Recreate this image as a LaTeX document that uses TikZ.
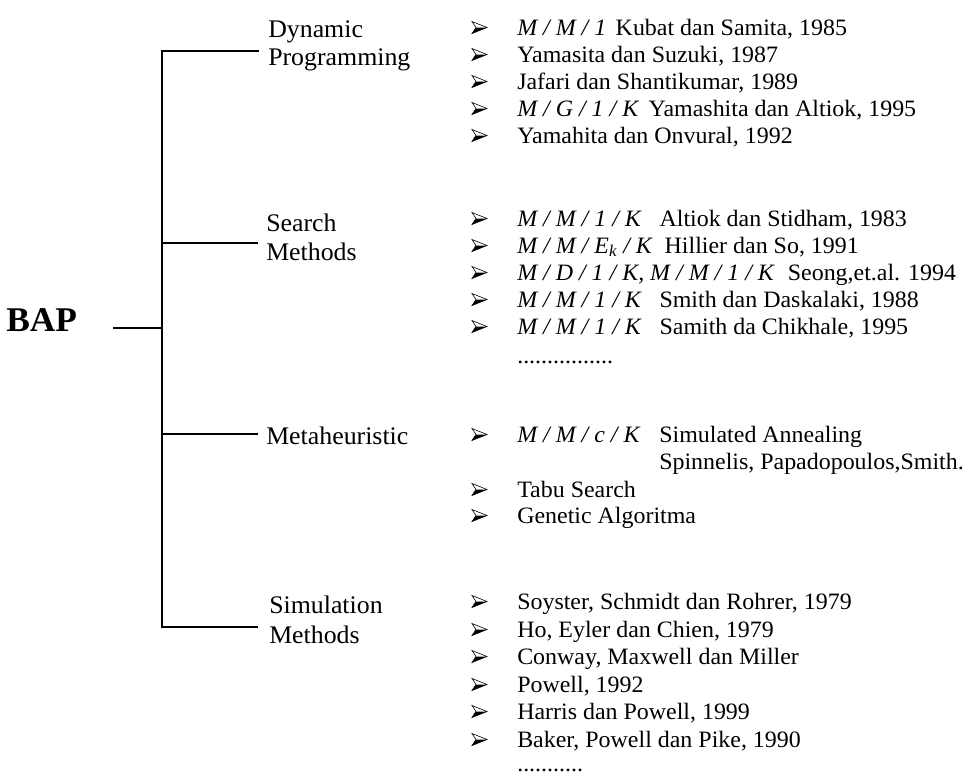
\documentclass[tikz,border=0pt]{standalone}
\usepackage{fontspec}
\setmainfont{Liberation Serif}[FakeStretch=1.02]
\begin{document}
\begin{tikzpicture}[x=0.75pt,y=-0.75pt,
  lbl/.style={anchor=base west, inner sep=0pt, font=\fontsize{19}{22}\selectfont},
  itm/.style={anchor=base west, inner sep=0pt, font=\fontsize{17.6}{20}\selectfont},
  root/.style={anchor=base west, inner sep=0pt, font=\fontsize{26}{30}\selectfont\bfseries},
  conn/.style={line width=1.4pt},
  arrbul/.pic={
    \fill[black] (4,0) -- (15,0) -- (0,6) -- cycle;
    \draw[line width=0.45pt, line join=miter] (0,-6) -- (15,0) -- (0,6) -- (4,0) -- cycle;
  }]
\useasboundingbox (0,0) rectangle (968,776);

% root
\node[root] (bap) at (6,331.7) {BAP};

% junctions
\coordinate (bapL) at (113,328.3);
\coordinate (jbap) at (161.7,328.3);
\coordinate (jdp) at (161.7,50.7);
\coordinate (jsm) at (161.7,242.7);
\coordinate (jmh) at (161.7,434);
\coordinate (jsi) at (161.7,627);

% category labels
\node[lbl] (dpA) at (268,37) {Dynamic};
\node[lbl] (dpB) at (268,65) {Programming};
\node[lbl] (smA) at (266,231) {Search};
\node[lbl] (smB) at (266,260) {Methods};
\node[lbl] (mh)  at (266,444) {Metaheuristic};
\node[lbl] (siA) at (269,613) {Simulation};
\node[lbl] (siB) at (269,643) {Methods};

% connectors
\draw[conn] (bapL) -- (jbap);
\draw[conn, line cap=rect] (jdp) -- (jsi);
\draw[conn, shorten >=7pt] (jdp) -- (jdp -| dpB.west);
\draw[conn, shorten >=6pt] (jsm) -- (jsm -| smB.west);
\draw[conn, shorten >=6pt] (jmh) -- (jmh -| mh.west);
\draw[conn, shorten >=8pt] (jsi) -- (jsi -| siB.west);

% bullets
\foreach \y in {35,62,89,116,143, 226,253,280,307,334, 442,497,523, 609,637,664,692,719,747}
  \pic at (472,\y-7.5) {arrbul};

% Dynamic Programming items
\node[itm] (dp1) at (517,35) {\textit{M / M / 1}\hspace{0.4em}Kubat dan Samita, 1985};
\node[itm] (dp2) at (517,62) {Yamasita dan Suzuki, 1987};
\node[itm] (dp3) at (517,89) {Jafari dan Shantikumar, 1989};
\node[itm] (dp4) at (517,116) {\textit{M / G / 1 / K}\hspace{0.4em}Yamashita dan Altiok, 1995};
\node[itm] (dp5) at (517,143) {Yamahita dan Onvural, 1992};

% Search Methods items
\node[itm] (sm1) at (517,226) {\textit{M / M / 1 / K}\hspace{0.75em}Altiok dan Stidham, 1983};
\node[itm] (sm2) at (517,253) {\textit{M / M / E}\textsubscript{\textit{k}}\textit{ / K}\hspace{0.5em}Hillier dan So, 1991};
\node[itm] (sm3) at (517,280) {\textit{M / D / 1 / K, M / M / 1 / K}\hspace{0.55em}Seong,et.al. 1994};
\node[itm] (sm4) at (517,307) {\textit{M / M / 1 / K}\hspace{0.75em}Smith dan Daskalaki, 1988};
\node[itm] (sm5) at (517,334) {\textit{M / M / 1 / K}\hspace{0.75em}Samith da Chikhale, 1995};
\node[itm] (sm6) at (517,363) {................};

% Metaheuristic items
\node[itm] (mh1) at (517,442) {\textit{M / M / c / K}\hspace{0.8em}Simulated Annealing};
\node[itm] (mh1b) at (659,469) {Spinnelis, Papadopoulos,Smith.};
\node[itm] (mh2) at (517,497) {Tabu Search};
\node[itm] (mh3) at (517,523) {Genetic Algoritma};

% Simulation Methods items
\node[itm] (si1) at (517,609) {Soyster, Schmidt dan Rohrer, 1979};
\node[itm] (si2) at (517,637) {Ho, Eyler dan Chien, 1979};
\node[itm] (si3) at (517,664) {Conway, Maxwell dan Miller};
\node[itm] (si4) at (517,692) {Powell, 1992};
\node[itm] (si5) at (517,719) {Harris dan Powell, 1999};
\node[itm] (si6) at (517,747) {Baker, Powell dan Pike, 1990};
\node[itm] (si7) at (517,771) {...........};
\end{tikzpicture}
\end{document}
